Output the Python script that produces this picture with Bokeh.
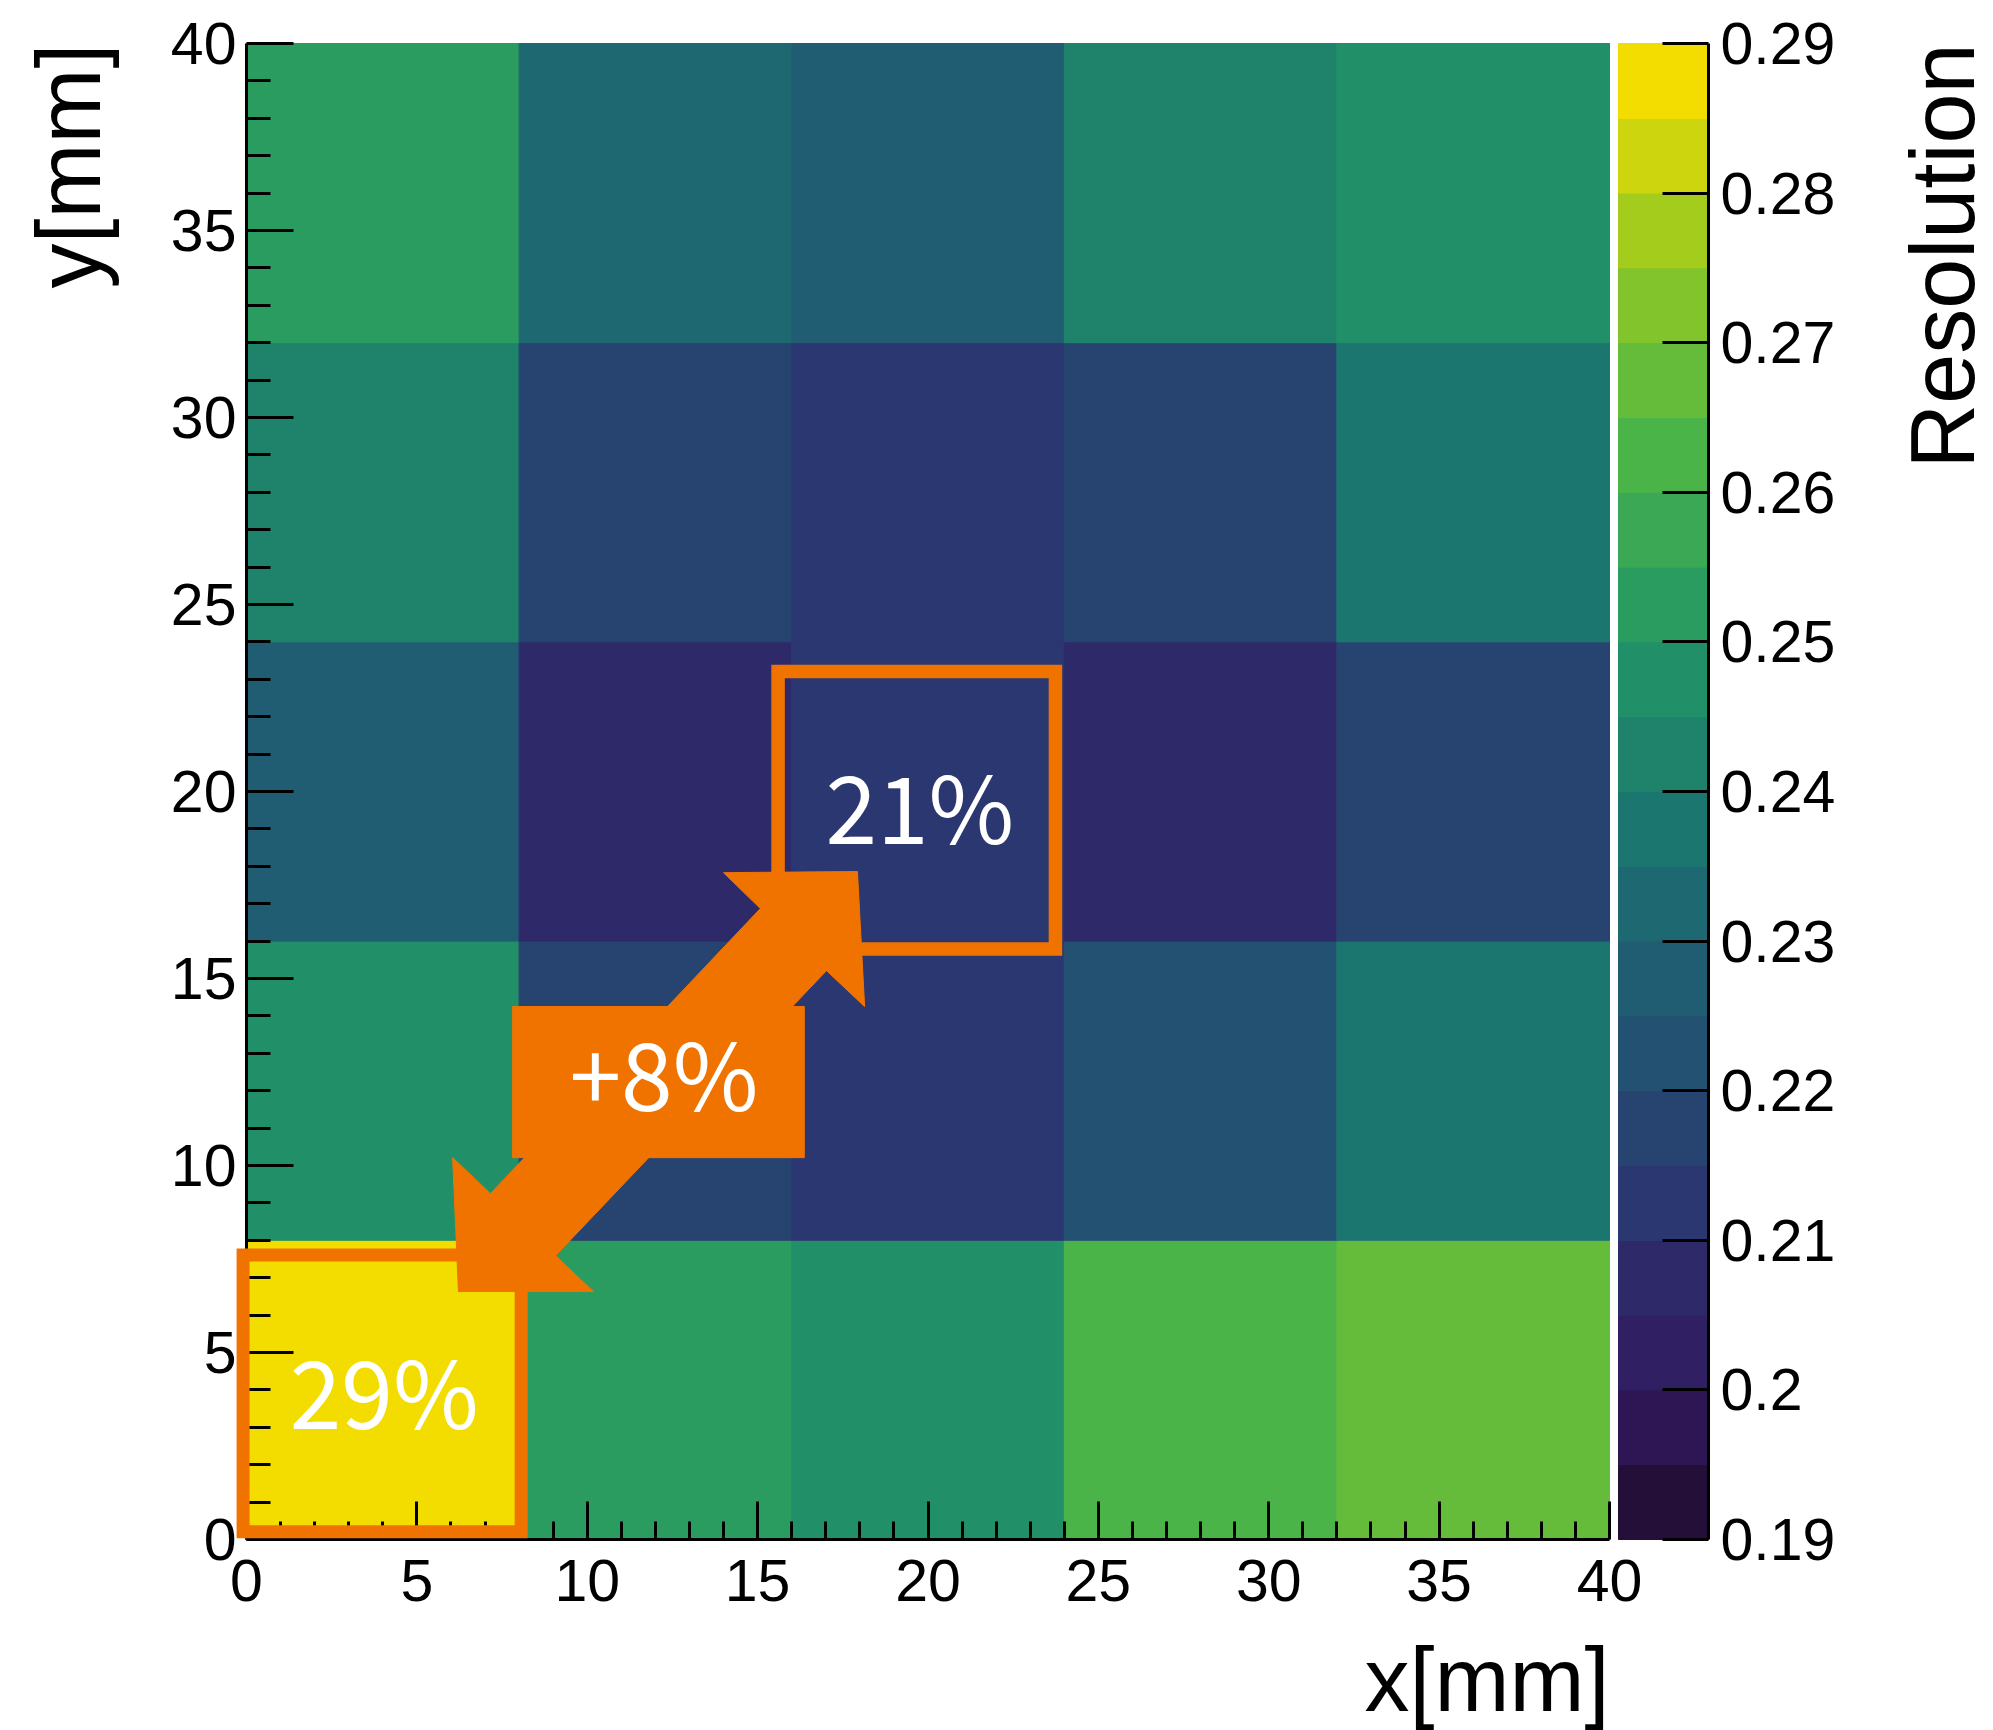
import math
from bokeh.plotting import figure
from bokeh.models import (Range1d, LinearAxis, FixedTicker, ColumnDataSource,
                          BoxAnnotation, Label)
from bokeh.embed import file_html
from bokeh.resources import INLINE

# ---------------------------------------------------------------- data
x_edges = [0, 8, 16, 24, 32, 40]          # mm
y_edges = [0, 8, 16, 24, 32, 40]          # mm

# resolution of each 8x8 mm cell, one list per row (bottom row first)
res_y00 = [0.290, 0.252, 0.247, 0.262, 0.267]
res_y08 = [0.247, 0.217, 0.212, 0.222, 0.237]
res_y16 = [0.227, 0.207, 0.210, 0.207, 0.217]
res_y24 = [0.242, 0.217, 0.212, 0.217, 0.237]
res_y32 = [0.252, 0.232, 0.227, 0.242, 0.247]
res_rows = [res_y00, res_y08, res_y16, res_y24, res_y32]

z_min, z_max, n_contours = 0.19, 0.29, 20

axis_ticks = [0, 5, 10, 15, 20, 25, 30, 35, 40]
axis_minor_ticks = [v for v in range(0, 41) if v % 5]
cbar_ticks = [0.19, 0.20, 0.21, 0.22, 0.23, 0.24, 0.25, 0.26, 0.27, 0.28, 0.29]
cbar_tick_labels = ["0.19", "0.2", "0.21", "0.22", "0.23", "0.24",
                    "0.25", "0.26", "0.27", "0.28", "0.29"]

x_title = "x[mm]"
y_title = "y[mm]"
z_title = "Resolution"

# highlighted cells (column, row)
worst_cell = (0, 0)
best_cell = (2, 2)

# ------------------------------------------------------------- palette
# viridis gradient as defined by ROOT (kViridis), 255 colours
stops = [0.0, 0.125, 0.25, 0.375, 0.5, 0.625, 0.75, 0.875, 1.0]
red = [26, 51, 43, 33, 28, 35, 74, 144, 246]
green = [9, 24, 55, 87, 118, 150, 180, 200, 222]
blue = [30, 96, 112, 114, 112, 101, 72, 35, 0]
N_COLORS = 255
table = []
for g in range(1, len(stops)):
    n = int(math.floor(N_COLORS * stops[g]) - math.floor(N_COLORS * stops[g - 1]))
    for c in range(n):
        r = red[g - 1] + c * (red[g] - red[g - 1]) / n
        gg = green[g - 1] + c * (green[g] - green[g - 1]) / n
        b = blue[g - 1] + c * (blue[g] - blue[g - 1]) / n
        table.append("#%02x%02x%02x" % (int(round(r)), int(round(gg)), int(round(b))))
level_colors = [table[int((i + 0.99) * N_COLORS / n_contours)] for i in range(n_contours)]
step = (z_max - z_min) / n_contours


def level_of(v):
    i = int(math.floor(round((v - z_min) / step, 6)))
    return min(max(i, 0), n_contours - 1)


# -------------------------------------------------------------- layout
# The frame covers the whole canvas; axes are pinned with fixed_location.
W, H = 1993, 1730
AXIS_X, AXIS_TOP = 246, 43           # px of x=0 and of y=40
PLOT_W, PLOT_H = 1363, 1496          # px covered by 0..40 mm
CBAR_GAP, CBAR_W = 9, 90
AXIS_Y = AXIS_TOP + PLOT_H           # px of y=0
px_per_mm_x = PLOT_W / 40.0
px_per_mm_y = PLOT_H / 40.0
z_per_px = (z_max - z_min) / PLOT_H


def px_to_x(px):
    return (px - AXIS_X) / px_per_mm_x


def px_to_y(py):
    return (AXIS_Y - py) / px_per_mm_y


cbar_left = px_to_x(AXIS_X + PLOT_W + CBAR_GAP)
cbar_right = px_to_x(AXIS_X + PLOT_W + CBAR_GAP + CBAR_W)

p = figure(width=W, height=H,
           x_range=Range1d(px_to_x(0), px_to_x(W)),
           y_range=Range1d(px_to_y(H), px_to_y(0)),
           x_axis_location=None, y_axis_location=None,
           output_backend="svg", toolbar_location=None,
           min_border=0)
p.outline_line_color = None
p.background_fill_color = "white"
p.border_fill_color = "white"
for g in p.grid:
    g.visible = False
p.extra_y_ranges = {"cbar": Range1d(z_min - (H - AXIS_Y) * z_per_px,
                                    z_max + AXIS_TOP * z_per_px)}

# ---------------------------------------------------------- heat map
cells = dict(left=[], right=[], bottom=[], top=[], color=[], val=[])
for j, row in enumerate(res_rows):
    for i, v in enumerate(row):
        cells["left"].append(x_edges[i])
        cells["right"].append(x_edges[i + 1])
        cells["bottom"].append(y_edges[j])
        cells["top"].append(y_edges[j + 1])
        cells["val"].append(v)
        cells["color"].append(level_colors[level_of(v)])
p.quad(left="left", right="right", bottom="bottom", top="top",
       fill_color="color", line_color="color", line_width=1,
       source=ColumnDataSource(cells))

# ---------------------------------------------------------- colour bar
lv = [z_min + k * step for k in range(n_contours + 1)]
p.quad(left=cbar_left, right=cbar_right, bottom=lv[:-1], top=lv[1:],
       fill_color=level_colors, line_color=level_colors, line_width=1,
       y_range_name="cbar")

# ---------------------------------------------------------- axes
TICK_FONT = "Liberation Sans"
TICK_SIZE = "59px"
TITLE_SIZE = "90px"

xaxis = LinearAxis(ticker=FixedTicker(ticks=axis_ticks, minor_ticks=axis_minor_ticks),
                   bounds=(0, 40), fixed_location=0)
yaxis = LinearAxis(ticker=FixedTicker(ticks=axis_ticks, minor_ticks=axis_minor_ticks),
                   bounds=(0, 40), fixed_location=0)
caxis = LinearAxis(y_range_name="cbar",
                   ticker=FixedTicker(ticks=cbar_ticks, minor_ticks=[]),
                   bounds=(z_min, z_max), fixed_location=cbar_right,
                   major_label_overrides=dict(zip(cbar_ticks, cbar_tick_labels)))

for ax in (xaxis, yaxis, caxis):
    ax.axis_line_color = "black"
    ax.axis_line_width = 3
    ax.major_tick_line_color = "black"
    ax.major_tick_line_width = 3
    ax.minor_tick_line_color = "black"
    ax.minor_tick_line_width = 3
    ax.major_tick_out = 0
    ax.minor_tick_out = 0
    ax.major_label_text_font = TICK_FONT
    ax.major_label_text_font_size = TICK_SIZE
    ax.major_label_text_color = "black"

xaxis.major_tick_in = 38
xaxis.minor_tick_in = 18
xaxis.major_label_standoff = 20

yaxis.major_tick_in = 47
yaxis.minor_tick_in = 24
yaxis.major_label_standoff = 10

caxis.major_tick_in = 46
caxis.minor_tick_in = 0
caxis.major_label_standoff = 12

p.add_layout(xaxis, "below")
p.add_layout(yaxis, "left")
p.add_layout(caxis, "right")

# axis titles, right-aligned at the far end of each axis
title_style = dict(text_font=TICK_FONT, text_font_size=TITLE_SIZE,
                   text_color="black", text_baseline="alphabetic",
                   text_align="right")
p.add_layout(Label(x=40, y=px_to_y(1679), text=x_title, **title_style))
p.add_layout(Label(x=px_to_x(68), y=40, angle=math.pi / 2, text=y_title, **title_style))
p.add_layout(Label(x=px_to_x(1942), y=40, angle=math.pi / 2, text=z_title, **title_style))

# ---------------------------------------------------------- annotations
ORANGE = "#f07300"
ANNOT_FONT = "Noto Sans CJK JP"


def cell_box(cell, dl, dr, db, dt, lw):
    ci, cj = cell
    return BoxAnnotation(left=x_edges[ci] + dl, right=x_edges[ci + 1] + dr,
                         bottom=y_edges[cj] + db, top=y_edges[cj + 1] + dt,
                         fill_alpha=0, line_color=ORANGE, line_width=lw,
                         line_alpha=1, line_join="miter")


p.add_layout(cell_box(worst_cell, -0.10, 0.06, 0.21, -0.39, 13))
p.add_layout(cell_box(best_cell, -0.40, -0.26, -0.21, -0.79, 13.5))

# double-headed arrow between the two highlighted cells
arrow_x = [17.93, 18.14, 17.02, 9.07, 10.18, 6.22, 6.05, 7.16, 15.08, 14.00]
arrow_y = [17.86, 14.25, 15.21, 7.59, 6.63, 6.63, 10.21, 9.25, 16.87, 17.83]
p.patch(arrow_x, arrow_y, fill_color=ORANGE, line_color=ORANGE, line_width=1)
p.quad(left=7.81, right=16.37, bottom=10.21, top=14.25,
       fill_color=ORANGE, line_color=ORANGE, line_width=1)

worst_val = res_rows[worst_cell[1]][worst_cell[0]]
best_val = res_rows[best_cell[1]][best_cell[0]]
texts = [
    (4.04, 4.04, "%d%%" % round(worst_val * 100)),
    (19.76, 19.68, "%d%%" % round(best_val * 100)),
    (12.25, 12.54, "+%d%%" % round((worst_val - best_val) * 100)),
]
for tx, ty, tt in texts:
    p.add_layout(Label(x=tx, y=ty, text=tt, text_color="white",
                       text_font=ANNOT_FONT, text_font_size="93px",
                       text_align="center", text_baseline="middle"))

open("out.html", "w").write(file_html(p, INLINE))
